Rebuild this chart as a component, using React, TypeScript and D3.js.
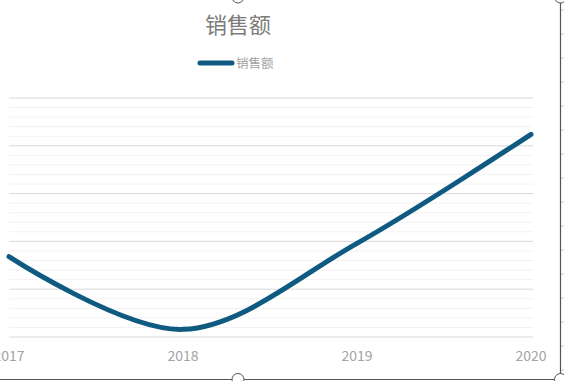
import React from "react";
import * as d3 from "d3";

const categories = ["2017", "2018", "2019", "2020"];
const salesValues = [84, 8, 98, 212];
const seriesName = "销售额";
const chartTitle = "销售额";
const yMax = 250;
const yMajorStep = 50;
const yMinorStep = 10;

const W = 564;
const H = 381;
const FONT = "'Noto Sans CJK SC', 'Noto Sans', sans-serif";
const LINE_COLOR = "#0f5a80";

export default function App() {
  const x = d3.scalePoint<string>().domain(categories).range([9, 531]);
  const y = d3.scaleLinear().domain([0, yMax]).range([337, 98]);
  const majors = d3.range(0, yMax + 0.001, yMajorStep);
  const minors = d3.range(0, yMax + 0.001, yMinorStep).filter((v) => v % yMajorStep !== 0);

  const line = d3
    .line<number>()
    .x((_, i) => x(categories[i]) as number)
    .y((d) => y(d))
    .curve(d3.curveCardinal.tension(0));

  const rowTicks = d3.range(0, H, 24);

  return (
    <svg
      width={W}
      height={H}
      style={{ position: "fixed", left: 0, top: 0, background: "#fff" }}
      fontFamily={FONT}
    >
      <rect x={0} y={0} width={W} height={H} fill="#fff" />
      {/* minor gridlines */}
      {minors.map((v) => (
        <line key={"mi" + v} x1={9} x2={533} y1={y(v)} y2={y(v)} stroke="#f2f2f2" strokeWidth={1} />
      ))}
      {/* major gridlines */}
      {majors.map((v) => (
        <line key={"ma" + v} x1={9} x2={533} y1={y(v)} y2={y(v)} stroke="#d9d9d9" strokeWidth={1} />
      ))}
      {/* series line */}
      <path d={line(salesValues) || ""} fill="none" stroke={LINE_COLOR} strokeWidth={5} strokeLinecap="round" />
      {/* x axis labels */}
      {categories.map((c) => (
        <text key={c} x={x(c)} y={361} textAnchor="middle" fontSize={14} fill="#a3a3a3">
          {c}
        </text>
      ))}
      {/* title */}
      <text x={238} y={33} textAnchor="middle" fontSize={22} fill="#7c7c7c">
        {chartTitle}
      </text>
      {/* legend */}
      <line x1={200} x2={232} y1={63} y2={63} stroke={LINE_COLOR} strokeWidth={5} strokeLinecap="round" />
      <text x={236} y={67.5} fontSize={12.5} fill="#a3a3a3">
        {seriesName}
      </text>
      {/* spreadsheet row lines at right */}
      {rowTicks.map((t) => (
        <line key={"r" + t} x1={561} x2={564} y1={t + 10} y2={t + 10} stroke="#c8c8c8" strokeWidth={1} />
      ))}
      {/* chart frame */}
      <line x1={0} x2={560} y1={379.5} y2={379.5} stroke="#555" strokeWidth={1.2} />
      <line x1={560.5} x2={560.5} y1={0} y2={379.5} stroke="#555" strokeWidth={1.2} />
      {/* handles */}
      {[
        [238, 379.5],
        [560.5, 379.5],
        [238, -3],
        [560.5, -3],
      ].map(([cx, cy], i) => (
        <circle key={"h" + i} cx={cx} cy={cy} r={6} fill="#fff" stroke="#555" strokeWidth={1} />
      ))}
    </svg>
  );
}
